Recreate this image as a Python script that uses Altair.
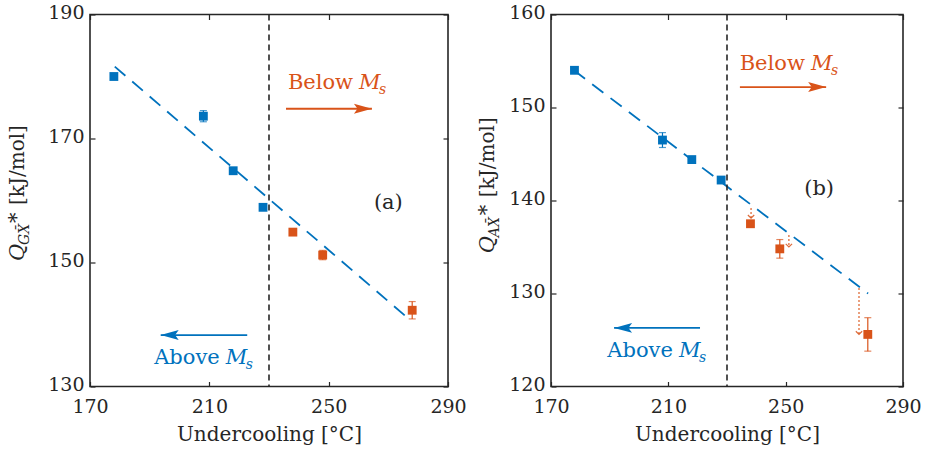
import altair as alt
import pandas as pd

SERIF = "DejaVu Serif"
BLUE = "#0072BD"
ORANGE = "#D95319"
INK = "#262626"

# Undercooling [°C] of the runs above and below Ms
temps_above = [178, 208, 218, 228]
temps_below = [238, 248, 278]

# Panel (a): Q_GX* [kJ/mol] with error half-widths
qa_above = [180.0, 173.6, 164.8, 158.9]
qa_above_err = [0.3, 0.9, 0.3, 0.3]
qa_below = [154.9, 151.2, 142.3]
qa_below_err = [0.3, 0.75, 1.4]
fit_a_t = [178.3, 276.4]
fit_a_q = [181.6, 141.1]

# Panel (b): Q_AX* [kJ/mol] with error half-widths
qb_above = [154.0, 146.5, 144.4, 142.2]
qb_above_err = [0.2, 0.8, 0.2, 0.2]
qb_below = [137.5, 134.8, 125.6]
qb_below_err = [0.3, 1.0, 1.8]
fit_b_t = [177.8, 278.1]
fit_b_q = [154.0, 130.0]

# Dotted drops from the extrapolated fit towards the measured values in (b)
drop_t = [238.2, 251.1, 275.0]
drop_from = [139.2, 136.3, 130.6]
drop_to = [138.1, 135.0, 125.6]

MS_TEMP = 230
X_TICKS = [170, 210, 250, 290]

ARROW_LEFT = "M0,0L2,-0.55L1.6,0L2,0.55Z"
ARROW_RIGHT = "M0,0L-2,-0.55L-1.6,0L-2,0.55Z"
CHEVRON_DOWN = "M-1,-1L0,0L1,-1"


def points_frame(q_above, e_above, q_below, e_below):
    rows = []
    for t, q, e in zip(temps_above, q_above, e_above):
        rows.append({"t": t, "q": q, "lo": q - e, "hi": q + e, "side": "above"})
    for t, q, e in zip(temps_below, q_below, e_below):
        rows.append({"t": t, "q": q, "lo": q - e, "hi": q + e, "side": "below"})
    return pd.DataFrame(rows)


def frame_axis(orient, values, **kw):
    return alt.Axis(orient=orient, values=values, domain=False, grid=False,
                    tickColor=INK, tickSize=5, tickWidth=1.2, offset=-5, **kw)


def label_axis(orient, values, title, **kw):
    return frame_axis(orient, values, format="d", labelFont=SERIF, labelFontSize=19,
                      labelColor=INK, title=title, titleFont=SERIF,
                      titleFontSize=20, titleFontWeight="normal", titleColor=INK,
                      titlePadding=8, labelFlush=False, labelOverlap=False, **kw)


def data_text(xs, ys, t, q, label, **style):
    df = pd.DataFrame({"t": [t], "q": [q], "label": [label]})
    return alt.Chart(df).mark_text(font=SERIF, baseline="alphabetic", **style).encode(
        x=alt.X("t:Q", scale=xs, axis=None),
        y=alt.Y("q:Q", scale=ys, axis=None),
        text="label:N",
    )


def pixel_text(px, py, label, **style):
    df = pd.DataFrame({"label": [label]})
    return alt.Chart(df).mark_text(font=SERIF, baseline="alphabetic", angle=270,
                                   align="left", color=INK, **style).encode(
        x=alt.value(px), y=alt.value(py), text="label:N")


def ms_label(xs, ys, t, q, word, color):
    # "<word> M_s" with italic M and subscript s, anchored where M starts
    return [
        data_text(xs, ys, t, q, word, align="right", dx=-6, fontSize=21, color=color),
        data_text(xs, ys, t, q, "M", align="left", fontSize=21, fontStyle="italic", color=color),
        data_text(xs, ys, t, q, "s", align="left", dx=20, dy=5, fontSize=14,
                  fontStyle="italic", color=color),
    ]


def arrow(xs, ys, t_from, t_to, q, color, shape):
    df = pd.DataFrame({"t": [t_from], "t2": [t_to], "q": [q]})
    shaft = alt.Chart(df).mark_rule(color=color, strokeWidth=1.8).encode(
        x=alt.X("t:Q", scale=xs, axis=None), x2="t2:Q",
        y=alt.Y("q:Q", scale=ys, axis=None))
    head = alt.Chart(df).mark_point(shape=shape, size=324, filled=True, opacity=1,
                                    color=color, strokeWidth=0).encode(
        x=alt.X("t2:Q", scale=xs, axis=None), y=alt.Y("q:Q", scale=ys, axis=None))
    return [shaft, head]


def y_title(px, py, sub):
    return [
        pixel_text(px, py, "Q", fontSize=21, fontStyle="italic"),
        pixel_text(px, py, sub, dx=16, dy=5, fontSize=14, fontStyle="italic"),
        pixel_text(px, py, "*", dx=38, dy=-1, fontSize=21),
        pixel_text(px, py, "[kJ/mol]", dx=56, fontSize=20),
    ]


def panel(pts, fit_t, fit_q, ydomain, yticks, width, height, extras_fn):
    xs = alt.Scale(domain=[170, 290], nice=False, zero=False)
    ys = alt.Scale(domain=ydomain, nice=False, zero=False)
    color = alt.Color("side:N", legend=None,
                      scale=alt.Scale(domain=["above", "below"], range=[BLUE, ORANGE]))

    fit = alt.Chart(pd.DataFrame({"t": fit_t, "q": fit_q})).mark_line(
        color=BLUE, strokeDash=[14, 9], strokeWidth=1.8).encode(
        x=alt.X("t:Q", scale=xs,
                axis=label_axis("bottom", X_TICKS, "Undercooling [°C]", labelPadding=11)),
        y=alt.Y("q:Q", scale=ys,
                axis=label_axis("left", yticks, None, labelPadding=6, labelOffset=-2)),
    )
    ms_line = alt.Chart(pd.DataFrame({"t": [MS_TEMP]})).mark_rule(
        color=INK, strokeDash=[6, 4], strokeWidth=1.6).encode(
        x=alt.X("t:Q", scale=xs, axis=None))
    bars = alt.Chart(pts).mark_rule(strokeWidth=1.2).encode(
        x=alt.X("t:Q", scale=xs, axis=frame_axis("top", X_TICKS, labels=False, title=None)),
        y=alt.Y("lo:Q", scale=ys, axis=frame_axis("right", yticks, labels=False, title=None)),
        y2="hi:Q", color=color)
    caps_lo = alt.Chart(pts).mark_tick(orient="horizontal", size=7, thickness=1.2).encode(
        x=alt.X("t:Q", scale=xs, axis=None), y=alt.Y("lo:Q", scale=ys, axis=None), color=color)
    caps_hi = alt.Chart(pts).mark_tick(orient="horizontal", size=7, thickness=1.2).encode(
        x=alt.X("t:Q", scale=xs, axis=None), y=alt.Y("hi:Q", scale=ys, axis=None), color=color)
    squares = alt.Chart(pts).mark_square(size=78, opacity=1).encode(
        x=alt.X("t:Q", scale=xs, axis=None), y=alt.Y("q:Q", scale=ys, axis=None), color=color)

    layers = [fit, ms_line, bars, caps_lo, caps_hi, squares] + extras_fn(xs, ys)
    return alt.layer(*layers).resolve_axis(x="independent", y="independent").properties(
        width=width, height=height)


def extras_a(xs, ys):
    return (
        ms_label(xs, ys, 260.2, 178.0, "Below", ORANGE)
        + arrow(xs, ys, 235.7, 264.5, 174.8, ORANGE, ARROW_RIGHT)
        + ms_label(xs, ys, 215.5, 133.6, "Above", BLUE)
        + arrow(xs, ys, 222.7, 193.7, 138.3, BLUE, ARROW_LEFT)
        + [data_text(xs, ys, 270.0, 158.6, "(a)", align="center", fontSize=21, color=INK)]
        + y_title(-66, 246.5, "GX\u0304")
    )


def extras_b(xs, ys):
    drops = pd.DataFrame({"t": drop_t, "q": drop_from, "q2": drop_to})
    drop_lines = alt.Chart(drops).mark_rule(color=ORANGE, strokeDash=[2, 2], strokeWidth=1.3,
                                            opacity=0.85).encode(
        x=alt.X("t:Q", scale=xs, axis=None), y=alt.Y("q:Q", scale=ys, axis=None), y2="q2:Q")
    drop_heads = alt.Chart(drops).mark_point(shape=CHEVRON_DOWN, size=40, filled=False,
                                             color=ORANGE, strokeWidth=1.2, opacity=0.85).encode(
        x=alt.X("t:Q", scale=xs, axis=None), y=alt.Y("q2:Q", scale=ys, axis=None))
    return (
        [drop_lines, drop_heads]
        + ms_label(xs, ys, 258.6, 154.0, "Below", ORANGE)
        + arrow(xs, ys, 234.4, 263.8, 152.2, ORANGE, ARROW_RIGHT)
        + ms_label(xs, ys, 213.6, 123.2, "Above", BLUE)
        + arrow(xs, ys, 220.8, 191.5, 126.3, BLUE, ARROW_LEFT)
        + [data_text(xs, ys, 261.4, 140.55, "(b)", align="center", fontSize=21, color=INK)]
        + y_title(-57, 238.7, "AX\u0304")
    )


left = panel(points_frame(qa_above, qa_above_err, qa_below, qa_below_err),
             fit_a_t, fit_a_q, [130, 190], [130, 150, 170, 190], 358, 372, extras_a)
right = panel(points_frame(qb_above, qb_above_err, qb_below, qb_below_err),
              fit_b_t, fit_b_q, [120, 160], [120, 130, 140, 150, 160], 352, 372, extras_b)

chart = alt.hconcat(left, right, spacing=103, bounds="flush").properties(
    padding={"left": 5, "top": 2.5, "right": 5, "bottom": 5},
    background="white",
).configure_view(stroke=INK, strokeWidth=1.6)

chart.save("out.html", embed_options={"renderer": "svg", "actions": False})
